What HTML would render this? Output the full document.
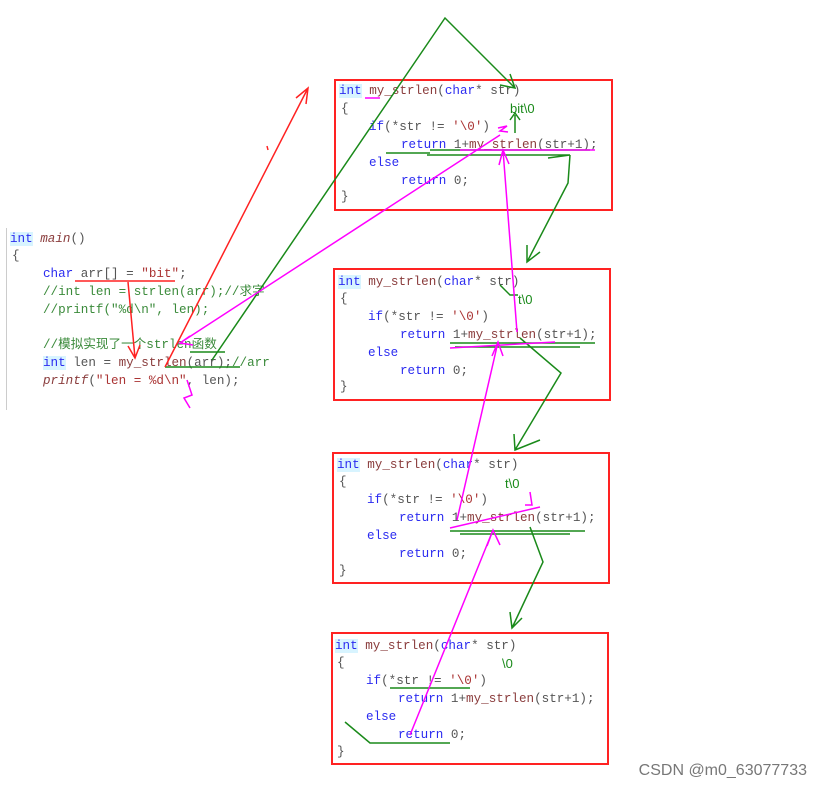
<!DOCTYPE html>
<html><head><meta charset="utf-8"><style>
body{margin:0;width:821px;height:790px;background:#fff;position:relative;overflow:hidden;font-family:"Liberation Mono","Noto Sans CJK SC",monospace;font-size:12.6px;}
.l{position:absolute;white-space:pre;line-height:16px;color:#555;}
.k{color:#2b2bf0}.f{color:#8a3c3c}.s{color:#a33}.c{color:#3a8a3a}.i{font-style:italic;color:#8a3c3c}
.hl{background:#d8f4ff}
.box{position:absolute;border:2px solid #f22;box-sizing:border-box}
.gut{position:absolute;left:6px;top:228px;width:1px;height:182px;background:#ccc}
svg{position:absolute;left:0;top:0}
.wm{position:absolute;right:14px;top:762px;font-family:"Liberation Sans",sans-serif;font-size:16px;color:#777}
</style></head><body>
<div class="gut"></div>
<div class="l" style="left:10px;top:231px"><span class="k hl">int</span> <span class="i">main</span>()</div>
<div class="l" style="left:12px;top:248px">{</div>
<div class="l" style="left:43px;top:266px"><span class="k">char</span> arr[] = <span class="s">"bit"</span>;</div>
<div class="l c" style="left:43px;top:284px">//int len = strlen(arr);//求字</div>
<div class="l c" style="left:43px;top:302px">//printf("%d\n", len);</div>
<div class="l c" style="left:43px;top:337px">//模拟实现了一个strlen函数</div>
<div class="l" style="left:43px;top:355px"><span class="k hl">int</span> len = <span class="f">my_strlen</span>(arr);<span class="c">//arr</span></div>
<div class="l" style="left:43px;top:373px"><span class="i">printf</span>(<span class="s">"len = %d\n"</span>, len);</div>

<div class="box" style="left:334px;top:79px;width:279px;height:132px"></div>
<div class="box" style="left:333px;top:268px;width:278px;height:133px"></div>
<div class="box" style="left:332px;top:452px;width:278px;height:132px"></div>
<div class="box" style="left:331px;top:632px;width:278px;height:133px"></div>

<div class="l" style="left:339px;top:83px"><span class="k hl">int</span> <span class="f">my_strlen</span>(<span class="k">char</span>* str)</div>
<div class="l" style="left:341px;top:101px">{</div>
<div class="l" style="left:369px;top:119px"><span class="k">if</span>(*str != <span class="s">'\0'</span>)</div>
<div class="l" style="left:401px;top:137px"><span class="k">return</span> 1+<span class="f">my_strlen</span>(str+1);</div>
<div class="l" style="left:369px;top:155px"><span class="k">else</span></div>
<div class="l" style="left:401px;top:173px"><span class="k">return</span> 0;</div>
<div class="l" style="left:341px;top:189px">}</div>

<div class="l" style="left:338px;top:274px"><span class="k hl">int</span> <span class="f">my_strlen</span>(<span class="k">char</span>* str)</div>
<div class="l" style="left:340px;top:291px">{</div>
<div class="l" style="left:368px;top:309px"><span class="k">if</span>(*str != <span class="s">'\0'</span>)</div>
<div class="l" style="left:400px;top:327px"><span class="k">return</span> 1+<span class="f">my_strlen</span>(str+1);</div>
<div class="l" style="left:368px;top:345px"><span class="k">else</span></div>
<div class="l" style="left:400px;top:363px"><span class="k">return</span> 0;</div>
<div class="l" style="left:340px;top:379px">}</div>

<div class="l" style="left:337px;top:457px"><span class="k hl">int</span> <span class="f">my_strlen</span>(<span class="k">char</span>* str)</div>
<div class="l" style="left:339px;top:474px">{</div>
<div class="l" style="left:367px;top:492px"><span class="k">if</span>(*str != <span class="s">'\0'</span>)</div>
<div class="l" style="left:399px;top:510px"><span class="k">return</span> 1+<span class="f">my_strlen</span>(str+1);</div>
<div class="l" style="left:367px;top:528px"><span class="k">else</span></div>
<div class="l" style="left:399px;top:546px"><span class="k">return</span> 0;</div>
<div class="l" style="left:339px;top:563px">}</div>

<div class="l" style="left:335px;top:638px"><span class="k hl">int</span> <span class="f">my_strlen</span>(<span class="k">char</span>* str)</div>
<div class="l" style="left:337px;top:655px">{</div>
<div class="l" style="left:366px;top:673px"><span class="k">if</span>(*str != <span class="s">'\0'</span>)</div>
<div class="l" style="left:398px;top:691px"><span class="k">return</span> 1+<span class="f">my_strlen</span>(str+1);</div>
<div class="l" style="left:366px;top:709px"><span class="k">else</span></div>
<div class="l" style="left:398px;top:727px"><span class="k">return</span> 0;</div>
<div class="l" style="left:337px;top:744px">}</div>

<svg width="821" height="790" fill="none" stroke-width="1.5">
<g stroke="#1a8a1a">
<path d="M212 360 L445 18 L515 88 M500 85 L515 88 L510 74"/>
<path d="M427 155 L570 155 L548 158 M570 155 L568 183 L527 262 M527 245 L527 262 L540 252"/>
<path d="M430 150 L590 150"/>
<path d="M520 338 L561 373 L515 450 M514 434 L515 450 L540 440"/>
<path d="M450 343 L595 343 M455 347 L580 347"/>
<path d="M530 527 L543 562 L512 628 M510 612 L512 628 L522 618"/>
<path d="M450 531 L585 531 M460 534 L570 534"/>
<path d="M345 722 L370 743 L450 743"/>
<path d="M390 688 L470 688"/>
<path d="M386 153 L430 153"/>
<path d="M515 133 L515 115 M510 120 L515 113 L520 120"/>
<path d="M500 285 L510 295 L518 295"/>
<path d="M165 367 L240 367"/>
<path d="M190 352 L225 352"/>
</g>
<g stroke="#f22">
<path d="M75 281 L175 281"/>
<path d="M128 282 L135 358 M128 346 L135 358 L140 345"/>
<path d="M165 367 L308 88 M296 98 L308 88 L306 104"/>
<path d="M267 146 L268 150"/>
</g>
<g stroke="#f0f">
<path d="M500 135 L180 343 M190 336 L180 343 L193 345"/>
<path d="M460 150 L595 150"/>
<path d="M517 332 L503 150 M499 165 L503 150 L509 164"/>
<path d="M457 520 L498 342 M492 356 L498 342 L503 356"/>
<path d="M410 735 L493 530 M487 546 L493 530 L500 545"/>
<path d="M450 348 L555 342"/>
<path d="M450 528 L540 507"/>
<path d="M365 98 L380 98"/>
<path d="M498 128 L507 126 L500 131 L508 132"/>
<path d="M187 380 L192 395 L184 398 L190 408"/>
<path d="M530 492 L532 505 L525 505"/>
</g>
</svg>
<div class="l" style="left:510px;top:101px;color:#1a8a1a;font-family:'Liberation Sans',sans-serif;font-size:13px">bit\0</div>
<div class="l" style="left:518px;top:292px;color:#1a8a1a;font-family:'Liberation Sans',sans-serif;font-size:13px">t\0</div>
<div class="l" style="left:505px;top:476px;color:#1a8a1a;font-family:'Liberation Sans',sans-serif;font-size:13px">t\0</div>
<div class="l" style="left:502px;top:656px;color:#1a8a1a;font-family:'Liberation Sans',sans-serif;font-size:13px">\0</div>
<div class="wm">CSDN @m0_63077733</div>
</body></html>
